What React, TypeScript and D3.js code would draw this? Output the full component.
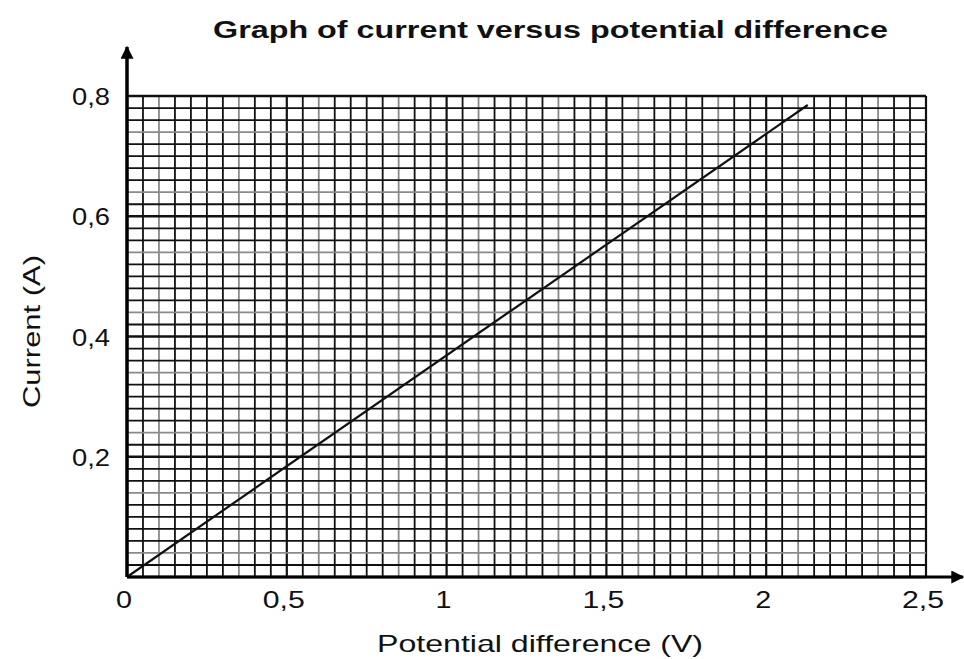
import React from "react";
import * as d3 from "d3";

const title = "Graph of current versus potential difference";
const xTitle = "Potential difference (V)";
const yTitle = "Current (A)";
const xTicks = [0, 0.5, 1, 1.5, 2, 2.5];
const xTickLabels = ["0", "0,5", "1", "1,5", "2", "2,5"];
const yTicks = [0.2, 0.4, 0.6, 0.8];
const yTickLabels = ["0,2", "0,4", "0,6", "0,8"];
const lineV = [0, 2.13];
const lineI = [0, 0.785];

export default function App() {
  const W = 964, H = 659;
  const x = d3.scaleLinear().domain([0, 2.5]).range([127, 926]);
  const y = d3.scaleLinear().domain([0, 0.8]).range([577, 96]);
  const font = "'Liberation Sans', Arial, sans-serif";

  const vLines = d3.range(0, 51).map((i) => i * 0.05);
  const hLines = d3.range(0, 41).map((i) => i * 0.02);
  const pts: [number, number][] = lineV.map((v, i) => [v, lineI[i]]);
  const line = d3.line<[number, number]>().x((d) => x(d[0])).y((d) => y(d[1]));

  return (
    <svg width={W} height={H} style={{ position: "absolute", left: 0, top: 0, background: "#fff" }}>
      <defs>
        <marker id="arr" viewBox="0 0 10 10" refX="9" refY="5" markerWidth="13" markerHeight="13" orient="auto" markerUnits="userSpaceOnUse">
          <path d="M0,0 L10,5 L0,10 z" fill="#000" />
        </marker>
      </defs>
      <g>
        {vLines.map((v, i) => (
          <line key={"v" + i} x1={x(v)} x2={x(v)} y1={y(0)} y2={y(0.8)}
            stroke={i % 5 === 2 ? "#8a8a8a" : "#111"} strokeWidth={i % 10 === 0 ? 2.2 : 1.8} />
        ))}
        {hLines.map((v, i) => (
          <line key={"h" + i} x1={x(0)} x2={x(2.5)} y1={y(v)} y2={y(v)}
            stroke={i % 5 === 2 ? "#8a8a8a" : "#111"} strokeWidth={i % 10 === 0 ? 2.4 : 1.8} />
        ))}
      </g>
      <path d={line(pts) || ""} fill="none" stroke="#111" strokeWidth={2.2} />
      <line x1={x(0)} x2={x(0)} y1={y(0)} y2={47} stroke="#000" strokeWidth={3.5} markerEnd="url(#arr)" />
      <line x1={x(0)} x2={963} y1={y(0)} y2={y(0)} stroke="#000" strokeWidth={3} markerEnd="url(#arr)" />
      {xTicks.map((t, i) => (
        <text key={"xt" + i} x={x(t) - 3} y={608} textAnchor="middle" fontFamily={font} fontSize={24} fill="#111"
          textLength={xTickLabels[i].length === 1 ? 16 : 42} lengthAdjust="spacingAndGlyphs">
          {xTickLabels[i]}
        </text>
      ))}
      {yTicks.map((t, i) => (
        <text key={"yt" + i} x={72} y={y(t) + 9} textAnchor="start" fontFamily={font} fontSize={24} fill="#111"
          textLength={38} lengthAdjust="spacingAndGlyphs">
          {yTickLabels[i]}
        </text>
      ))}
      <text x={213} y={38} textAnchor="start" fontFamily={font} fontSize={24} fontWeight="bold" fill="#111"
        textLength={675} lengthAdjust="spacingAndGlyphs">
        {title}
      </text>
      <text x={377} y={652} textAnchor="start" fontFamily={font} fontSize={24} fill="#111"
        textLength={326} lengthAdjust="spacingAndGlyphs">
        {xTitle}
      </text>
      <text transform={`translate(40,408) rotate(-90)`} textAnchor="start" fontFamily={font} fontSize={24} fill="#111"
        textLength={153} lengthAdjust="spacingAndGlyphs">
        {yTitle}
      </text>
    </svg>
  );
}
